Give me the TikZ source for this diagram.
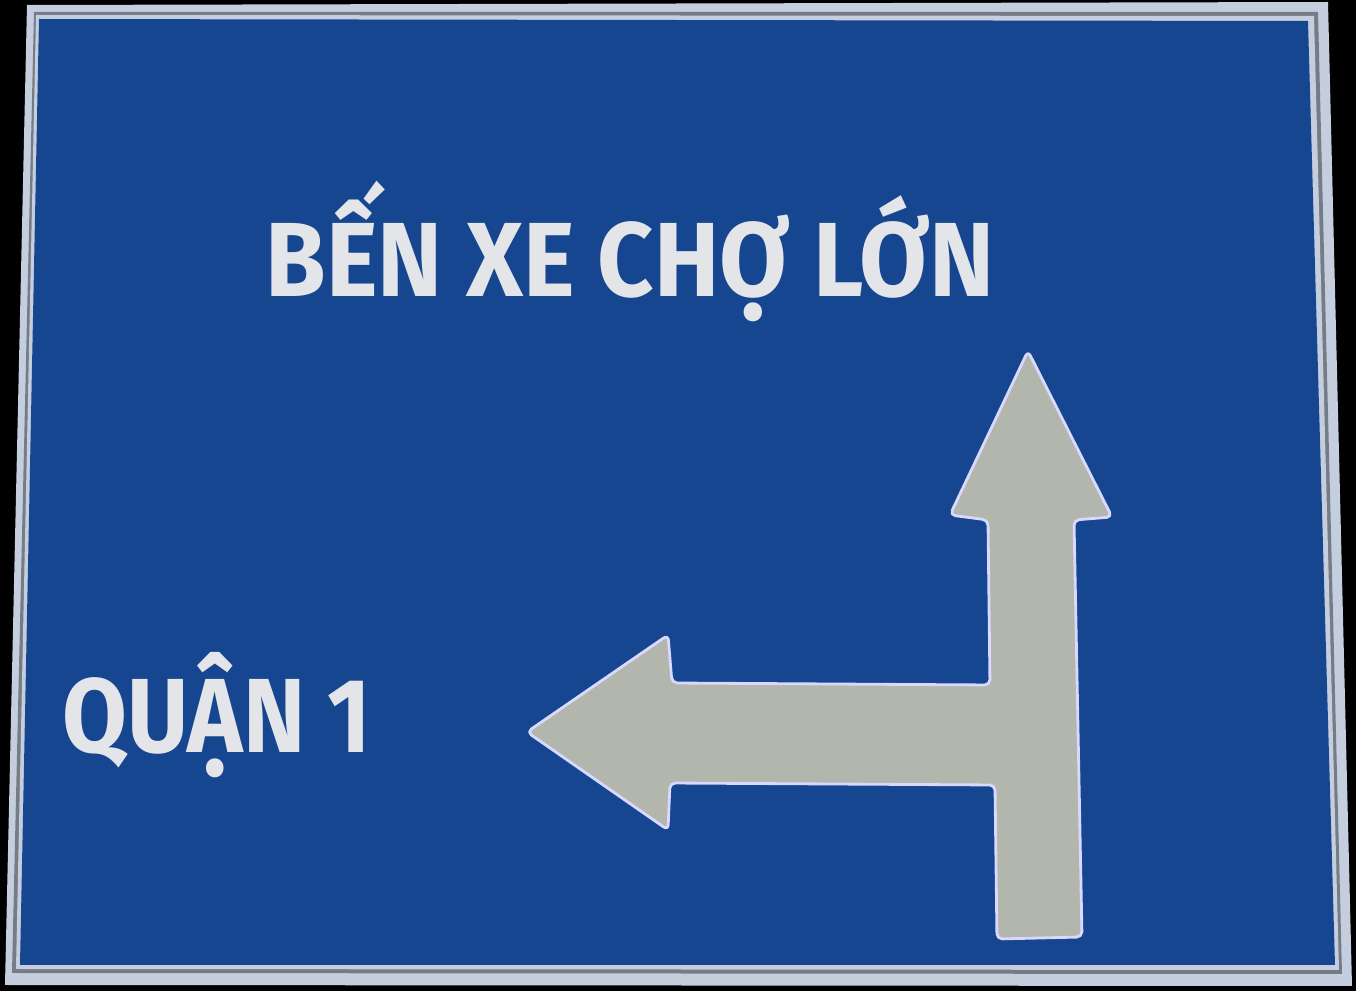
\documentclass[tikz,border=0pt]{standalone}
\usepackage{fontspec}
\setmainfont{Fira Sans}
\definecolor{signblue}{RGB}{22,70,144}
\definecolor{rim}{RGB}{196,206,222}
\definecolor{arrowfill}{RGB}{178,182,172}
\definecolor{txt}{RGB}{228,229,232}
\begin{document}
\begin{tikzpicture}[x=0.01cm,y=-0.01cm,
  signtext/.style={text=txt,font=\fontsize{30}{30}\selectfont\bfseries,inner sep=0pt,transform shape},
  arrowshape/.style={fill=arrowfill,draw=white!85!blue,line width=0.8pt,rounded corners=1.5pt,line join=round}]
\fill[black] (0,0) rectangle (1356,991);
\useasboundingbox (0,0) rectangle (1356,991);
% outer rim
\fill[rim] (27,5) -- (1328,2) -- (1352,986) -- (5,985) -- cycle;
\fill[rim!60!black] (34,12) -- (1318,12) -- (1342,974) -- (12,973) -- cycle;
\fill[rim] (36,15) -- (1314,16) -- (1339,970) -- (16,969) -- cycle;
% blue field
\fill[signblue] (39,19) -- (1308,21) -- (1335,965) -- (20,965) -- cycle;
% texts
\node[signtext,anchor=base,xscale=0.93] (dest) at (630,297) {BẾN XE CHỢ LỚN};
\node[signtext,anchor=base west,xscale=0.89] (q1) at (62,753) {QUẬN 1};
% arrow
\draw[arrowshape] (1028,351) -- (1112,517) -- (1074,520) -- (1082,937) -- (997,939)
  -- (995,785) -- (670,783) -- (668,830) -- (527,732) -- (668,635) -- (672,683)
  -- (990,685) -- (988,520) -- (950,515) -- cycle;
\end{tikzpicture}
\end{document}
